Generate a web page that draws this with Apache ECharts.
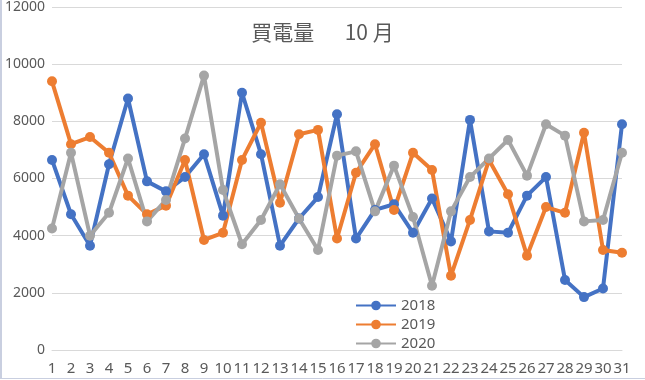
<!DOCTYPE html>
<html>
<head>
<meta charset="utf-8">
<script src="https://cdn.jsdelivr.net/npm/echarts@6/dist/echarts.min.js"></script>
<style>html,body{margin:0;padding:0;background:#fff;}#c{width:645px;height:380px;}</style>
</head>
<body>
<div id="c"></div>
<script>
const days = ['1','2','3','4','5','6','7','8','9','10','11','12','13','14','15','16','17','18','19','20','21','22','23','24','25','26','27','28','29','30','31'];
const s2018 = [6650,4750,3650,6500,8800,5900,5550,6050,6850,4700,9000,6850,3650,4600,5350,8250,3900,4900,5100,4100,5300,3800,8050,4150,4100,5400,6050,2450,1850,2150,7900];
const s2019 = [9400,7200,7450,6900,5400,4750,5050,6650,3850,4100,6650,7950,5150,7550,7700,3900,6200,7200,4900,6900,6300,2600,4550,6650,5450,3300,5000,4800,7600,3500,3400];
const s2020 = [4250,6900,4000,4800,6700,4500,5250,7400,9600,5600,3700,4550,5800,4600,3500,6800,6950,4850,6450,4650,2250,4850,6050,6700,7350,6100,7900,7500,4500,4550,6900];
const seriesNames = ['2018','2019','2020'];
const colors = ['#4472C4','#ED7D31','#A5A5A5'];
const titleText = '買電量\u3000  10 月';

const chart = echarts.init(document.getElementById('c'));
const font = '"Noto Sans", "Noto Sans CJK JP", sans-serif';
const mk = (name, data, color) => ({
  name, type: 'line', data, color,
  symbol: 'circle', symbolSize: 10,
  lineStyle: { width: 4, color },
  itemStyle: { color },
  animation: false
});
chart.setOption({
  animation: false,
  backgroundColor: '#fff',
  title: {
    text: titleText, left: 'center', top: 17,
    textStyle: { fontFamily: '"Noto Sans CJK JP", sans-serif', fontSize: 21, fontWeight: 'normal', color: '#595959' }
  },
  grid: { left: 52, right: 23, top: 7, bottom: 30, containLabel: false },
  legend: {
    orient: 'vertical', left: 350, top: 293,
    itemWidth: 40, itemHeight: 12, itemGap: 4,
    data: seriesNames,
    textStyle: { fontFamily: font, fontSize: 15, color: '#595959' }
  },
  xAxis: {
    type: 'category', data: days, boundaryGap: false,
    axisLine: { show: true, lineStyle: { color: '#D9D9D9' } },
    axisTick: { show: false },
    axisLabel: { interval: 0, margin: 11, fontFamily: font, fontSize: 15, color: '#595959' }
  },
  yAxis: {
    type: 'value', min: 0, max: 12000, interval: 2000,
    axisLine: { show: false }, axisTick: { show: false },
    splitLine: { lineStyle: { color: '#D9D9D9', width: 1 } },
    axisLabel: { margin: 7, fontFamily: font, fontSize: 14, color: '#595959', formatter: v => String(v) }
  },
  graphic: [
    { type: 'line', shape: { x1: 1, y1: 0, x2: 1, y2: 379 }, style: { stroke: '#C9CFE0', lineWidth: 2 } },
    { type: 'line', shape: { x1: 0, y1: 378.5, x2: 645, y2: 378.5 }, style: { stroke: '#C9CFE0', lineWidth: 1 } }
  ],
  series: [
    mk(seriesNames[0], s2018, colors[0]),
    mk(seriesNames[1], s2019, colors[1]),
    mk(seriesNames[2], s2020, colors[2])
  ]
});
</script>
</body>
</html>
